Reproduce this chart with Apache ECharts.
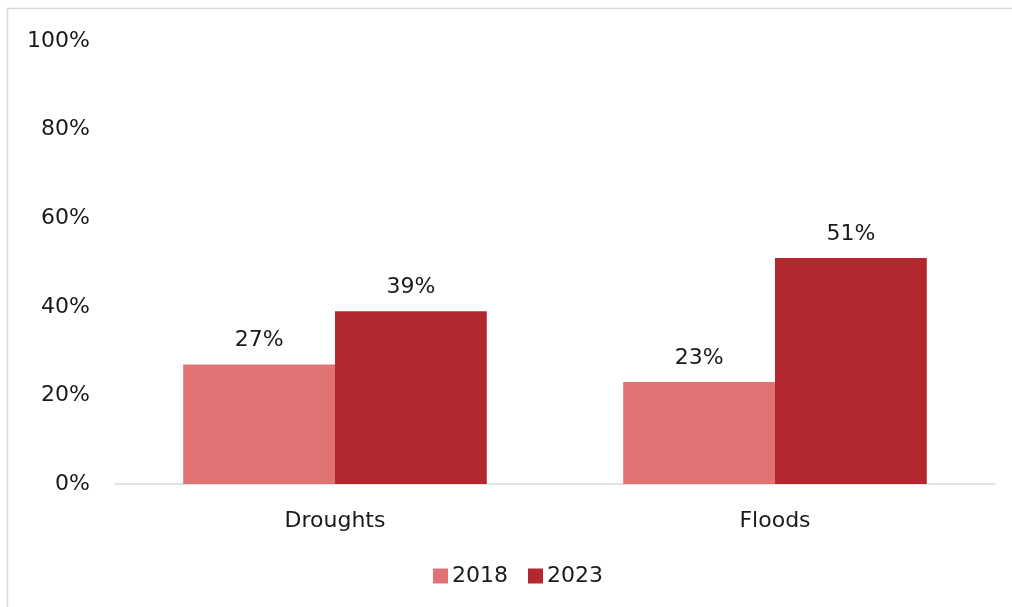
<!DOCTYPE html>
<html>
<head>
<meta charset="utf-8">
<script src="https://cdn.jsdelivr.net/npm/echarts@6/dist/echarts.min.js"></script>
<style>
  html, body { margin: 0; padding: 0; background: #fff; }
  #chart { width: 1012px; height: 607px; }
</style>
</head>
<body>
<div id="chart"></div>
<script>
const categories = ['Droughts', 'Floods'];
const seriesNames = ['2018', '2023'];
const values2018 = [27, 23];
const values2023 = [39, 51];
const yTicks = [0, 20, 40, 60, 80, 100];

const FONT = '"DejaVu Sans", sans-serif';
const FS = 22;
const chart = echarts.init(document.getElementById('chart'));

const labelStyle = {
  show: true,
  position: 'top',
  distance: 13,
  color: '#1a1a1a',
  fontSize: FS,
  fontFamily: FONT,
  formatter: p => p.value + '%'
};

chart.setOption({
  animation: false,
  graphic: [{
    type: 'rect',
    shape: { x: 7.5, y: 8.5, width: 1100, height: 700 },
    style: { fill: 'none', stroke: '#d9d9d9', lineWidth: 1.5 },
    silent: true
  }],
  grid: { left: 115, right: 17, top: 41, bottom: 123 },
  legend: {
    data: seriesNames,
    bottom: 15,
    left: 428,
    itemWidth: 15,
    itemHeight: 15,
    itemGap: 20,
    icon: 'rect',
    textStyle: { fontSize: FS, color: '#1a1a1a', fontFamily: FONT, padding: [0, 0, 0, -1] }
  },
  xAxis: {
    type: 'category',
    data: categories,
    axisLine: { lineStyle: { color: '#d9d9d9', width: 1.5 } },
    axisTick: { show: false },
    axisLabel: { fontSize: FS, color: '#1a1a1a', fontFamily: FONT, margin: 26 }
  },
  yAxis: {
    type: 'value',
    min: yTicks[0],
    max: yTicks[yTicks.length - 1],
    interval: 20,
    splitLine: { show: false },
    axisLine: { show: false },
    axisTick: { show: false },
    axisLabel: { fontSize: FS, color: '#1a1a1a', fontFamily: FONT, margin: 25, formatter: v => v + '%' }
  },
  series: [
    {
      name: seriesNames[0], type: 'bar', data: values2018,
      itemStyle: { color: '#e07274' },
      barGap: '0%', barCategoryGap: '31%',
      label: labelStyle
    },
    {
      name: seriesNames[1], type: 'bar', data: values2023,
      itemStyle: { color: '#b3272e' },
      barGap: '0%', barCategoryGap: '31%',
      label: labelStyle
    }
  ]
});
</script>
</body>
</html>
